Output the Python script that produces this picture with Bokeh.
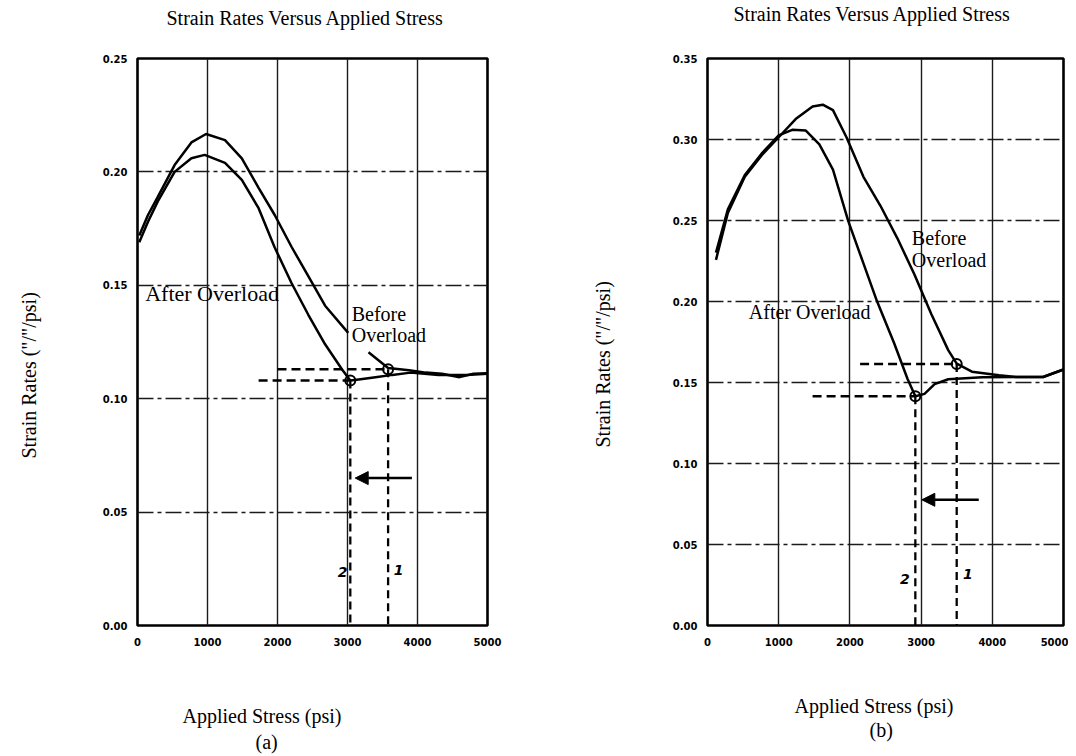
import math
from bokeh.plotting import figure
from bokeh.layouts import row
from bokeh.models import FixedTicker, Arrow, NormalHead, Range1d, PrintfTickFormatter, Title
from bokeh.core.properties import value
from bokeh.embed import file_html
from bokeh.resources import INLINE

NAN = float("nan")

# ---------------- data ----------------
titles = ["Strain Rates Versus Applied Stress", "Strain Rates Versus Applied Stress"]
x_label = "Applied Stress (psi)"
y_label = "Strain Rates (\"/\"/psi)"
panel_tags = ["(a)", "(b)"]
x_ticks = [0, 1000, 2000, 3000, 4000, 5000]
a_y_ticks = [0.00, 0.05, 0.10, 0.15, 0.20, 0.25]
b_y_ticks = [0.00, 0.05, 0.10, 0.15, 0.20, 0.25, 0.30, 0.35]
mark_numbers = ["2", "1"]

# panel (a)
a_before_x = [25, 150, 290, 530, 770, 980, 1250, 1490, 1730, 1960, 2200, 2440, 2680, 3010, NAN,
              3300, 3580, 3880, 4120, 4350, 4600, 4800, 5000]
a_before_y = [0.172, 0.181, 0.189, 0.203, 0.213, 0.2167, 0.214, 0.206, 0.193, 0.181, 0.167, 0.154, 0.141, 0.129, NAN,
              0.1205, 0.1135, 0.1125, 0.1115, 0.1110, 0.1095, 0.1110, 0.1112]
a_after_x = [25, 150, 290, 530, 770, 960, 1250, 1490, 1730, 1960, 2200, 2440, 2680, 2920, 3040, 3160, 3400,
             3640, 3900, 4300, 4700, 5000]
a_after_y = [0.169, 0.178, 0.187, 0.200, 0.206, 0.2075, 0.204, 0.1965, 0.184, 0.1667, 0.151, 0.137, 0.124, 0.113,
             0.108, 0.1085, 0.1095, 0.1105, 0.1115, 0.1105, 0.1105, 0.1110]
a_points_x = [3040, 3580]          # marks 2 and 1
a_points_y = [0.108, 0.113]
a_hdash_start = [1730, 2000]
a_arrow = [3920, 3110, 0.065]      # x from, x to, y
a_num_x = [2930, 3730]
a_num_y = [0.0235, 0.0245]
a_after_lbl = [110, 0.1465]
a_before_lbl = [3060, 0.1375, 0.1280]

# panel (b)
b_before_x = [119, 286, 524, 762, 1000, 1238, 1476, 1619, 1762, 1952, 2190, 2429, 2667, 2905, 3143, 3381,
              3500, 3714, 4095, 4333, 4714, 5000]
b_before_y = [0.2257, 0.2547, 0.277, 0.2903, 0.3014, 0.3126, 0.3204, 0.3215, 0.3181, 0.3014, 0.277, 0.2591,
              0.239, 0.2168, 0.1923, 0.170, 0.1616, 0.1567, 0.1545, 0.1534, 0.1534, 0.158]
b_after_x = [119, 286, 524, 762, 1000, 1190, 1381, 1571, 1762, 1976, 2190, 2381, 2619, 2810, 2919, 3048, 3190,
             3381, 3857, 4333, 4714, 5000]
b_after_y = [0.2302, 0.2569, 0.278, 0.2914, 0.3025, 0.306, 0.3055, 0.297, 0.2814, 0.2498, 0.2235, 0.2001,
             0.1745, 0.1522, 0.1415, 0.143, 0.149, 0.152, 0.1533, 0.1534, 0.1534, 0.158]
b_points_x = [2919, 3500]
b_points_y = [0.1415, 0.1614]
b_hdash_start = [1476, 2143]
b_arrow = [3810, 3010, 0.0776]
b_num_x = [2771, 3657]
b_num_y = [0.0285, 0.0315]
b_after_lbl = [580, 0.1934]
b_before_lbl = [2870, 0.2395, 0.2257]

SERIF = "Liberation Serif"


def make_panel(tag, title, y_max, y_ticks, bx, by, ax, ay, px, py, hstart, arrow, nx, ny,
               after_lbl, before_lbl, width, height, mb_left, mb_right, mb_top, mb_bottom, lay):
    p = figure(width=width, height=height, output_backend="svg", toolbar_location=None,
               x_range=Range1d(0, 5000), y_range=Range1d(0, y_max),
               min_border_left=mb_left, min_border_right=mb_right,
               min_border_top=mb_top, min_border_bottom=mb_bottom)

    # title above (extra empty lines lift the text higher above the frame)
    p.title.text = title + "\n\n"
    p.title.align = "left"
    p.title.offset = lay["title_offset"]
    p.title.text_font = SERIF
    p.title.text_font_size = "20px"
    p.title.text_font_style = "normal"
    p.title.text_color = "black"
    p.title.standoff = lay["title_standoff"]

    p.outline_line_color = "black"
    p.outline_line_width = 2.6
    p.outline_line_alpha = 1.0

    for axis in (p.xaxis[0], p.yaxis[0]):
        axis.axis_line_color = None
        axis.major_tick_line_color = None
        axis.minor_tick_line_color = None
        axis.major_tick_out = 0
        axis.major_tick_in = 0
        axis.minor_tick_out = 0
        axis.major_label_text_font = "DejaVu Sans"
        axis.major_label_text_font_style = "bold"
        axis.major_label_text_font_size = "10px"
        axis.major_label_text_color = "black"
    p.xaxis[0].ticker = FixedTicker(ticks=x_ticks)
    p.yaxis[0].ticker = FixedTicker(ticks=y_ticks)
    p.yaxis[0].formatter = PrintfTickFormatter(format="%.2f")
    p.xaxis[0].major_label_standoff = 12
    p.yaxis[0].major_label_standoff = 10

    # y axis title on the left (trailing blank lines push it outward)
    p.add_layout(Title(text=y_label + "\n\n", align="left", offset=lay["ylab_offset"],
                       standoff=lay["ylab_standoff"], text_font=SERIF, text_font_size="20px",
                       text_font_style="normal", text_color="black"), "left")
    # x axis title and panel tag below (leading blank lines push the text down)
    p.add_layout(Title(text="\n\n" + x_label, align="left", offset=lay["xlab_offset"],
                       standoff=lay["xlab_standoff"], text_font=SERIF, text_font_size="20px",
                       text_font_style="normal", text_color="black"), "below")
    p.add_layout(Title(text=tag, align="left", offset=lay["tag_offset"],
                       standoff=lay["tag_standoff"], text_font=SERIF, text_font_size="20px",
                       text_font_style="normal", text_color="black"), "below")

    p.xgrid.ticker = FixedTicker(ticks=x_ticks)
    p.ygrid.ticker = FixedTicker(ticks=y_ticks)
    p.xgrid.grid_line_color = "#1a1a1a"
    p.xgrid.grid_line_width = 1.4
    p.xgrid.grid_line_alpha = 1.0
    p.ygrid.grid_line_color = "#1a1a1a"
    p.ygrid.grid_line_width = 1.6
    p.ygrid.grid_line_alpha = 1.0
    p.ygrid.grid_line_dash = "16 4 4 4"

    # curves
    p.line(bx, by, line_color="black", line_width=2.5)
    p.line(ax, ay, line_color="black", line_width=2.5)

    # dashed projection lines
    p.segment(x0=hstart, y0=py, x1=px, y1=py, line_color="black", line_width=2.6, line_dash="9 5")
    p.segment(x0=px, y0=py, x1=px, y1=[0, 0], line_color="black", line_width=2.3, line_dash="8 5")
    p.scatter(px, py, marker="circle", size=10, fill_color=None, line_color="black", line_width=2)

    # arrow
    p.add_layout(Arrow(end=NormalHead(size=13, fill_color="black", line_color="black"),
                       x_start=arrow[0], y_start=arrow[2], x_end=arrow[1], y_end=arrow[2],
                       line_color="black", line_width=2.5))

    # numbers 2 and 1
    p.text(x=nx, y=ny, text=mark_numbers, text_font=value("DejaVu Sans"),
           text_font_style="bold italic", text_font_size="14px",
           text_align="center", text_baseline="middle", text_color="black")

    # curve labels
    p.text(x=[after_lbl[0]], y=[after_lbl[1]], text=["After Overload"], text_font=value(SERIF),
           text_font_size=lay["after_font"], text_align="left", text_baseline="middle", text_color="black")
    p.text(x=[before_lbl[0], before_lbl[0]], y=[before_lbl[1], before_lbl[2]], text=["Before", "Overload"],
           text_font=value(SERIF), text_font_size="20px", text_align="left",
           text_baseline="middle", text_color="black")
    return p


pa = make_panel(panel_tags[0], titles[0], 0.25, a_y_ticks, a_before_x, a_before_y, a_after_x, a_after_y,
                a_points_x, a_points_y, a_hdash_start, a_arrow, a_num_x, a_num_y, a_after_lbl, a_before_lbl,
                width=560, height=756, mb_left=137, mb_right=73, mb_top=58, mb_bottom=131,
                lay=dict(title_offset=29, title_standoff=-29, ylab_offset=167, ylab_standoff=31,
                         xlab_offset=45, xlab_standoff=20, tag_offset=118, tag_standoff=-16,
                         after_font="22px"))
pb = make_panel(panel_tags[1], titles[1], 0.35, b_y_ticks, b_before_x, b_before_y, b_after_x, b_after_y,
                b_points_x, b_points_y, b_hdash_start, b_arrow, b_num_x, b_num_y, b_after_lbl, b_before_lbl,
                width=508, height=756, mb_left=147, mb_right=5, mb_top=58, mb_bottom=131,
                lay=dict(title_offset=26, title_standoff=-21, ylab_offset=178, ylab_standoff=24,
                         xlab_offset=87, xlab_standoff=0, tag_offset=162, tag_standoff=0,
                         after_font="20px"))

layout = row(pa, pb)
open("out.html", "w").write(file_html(layout, INLINE))
